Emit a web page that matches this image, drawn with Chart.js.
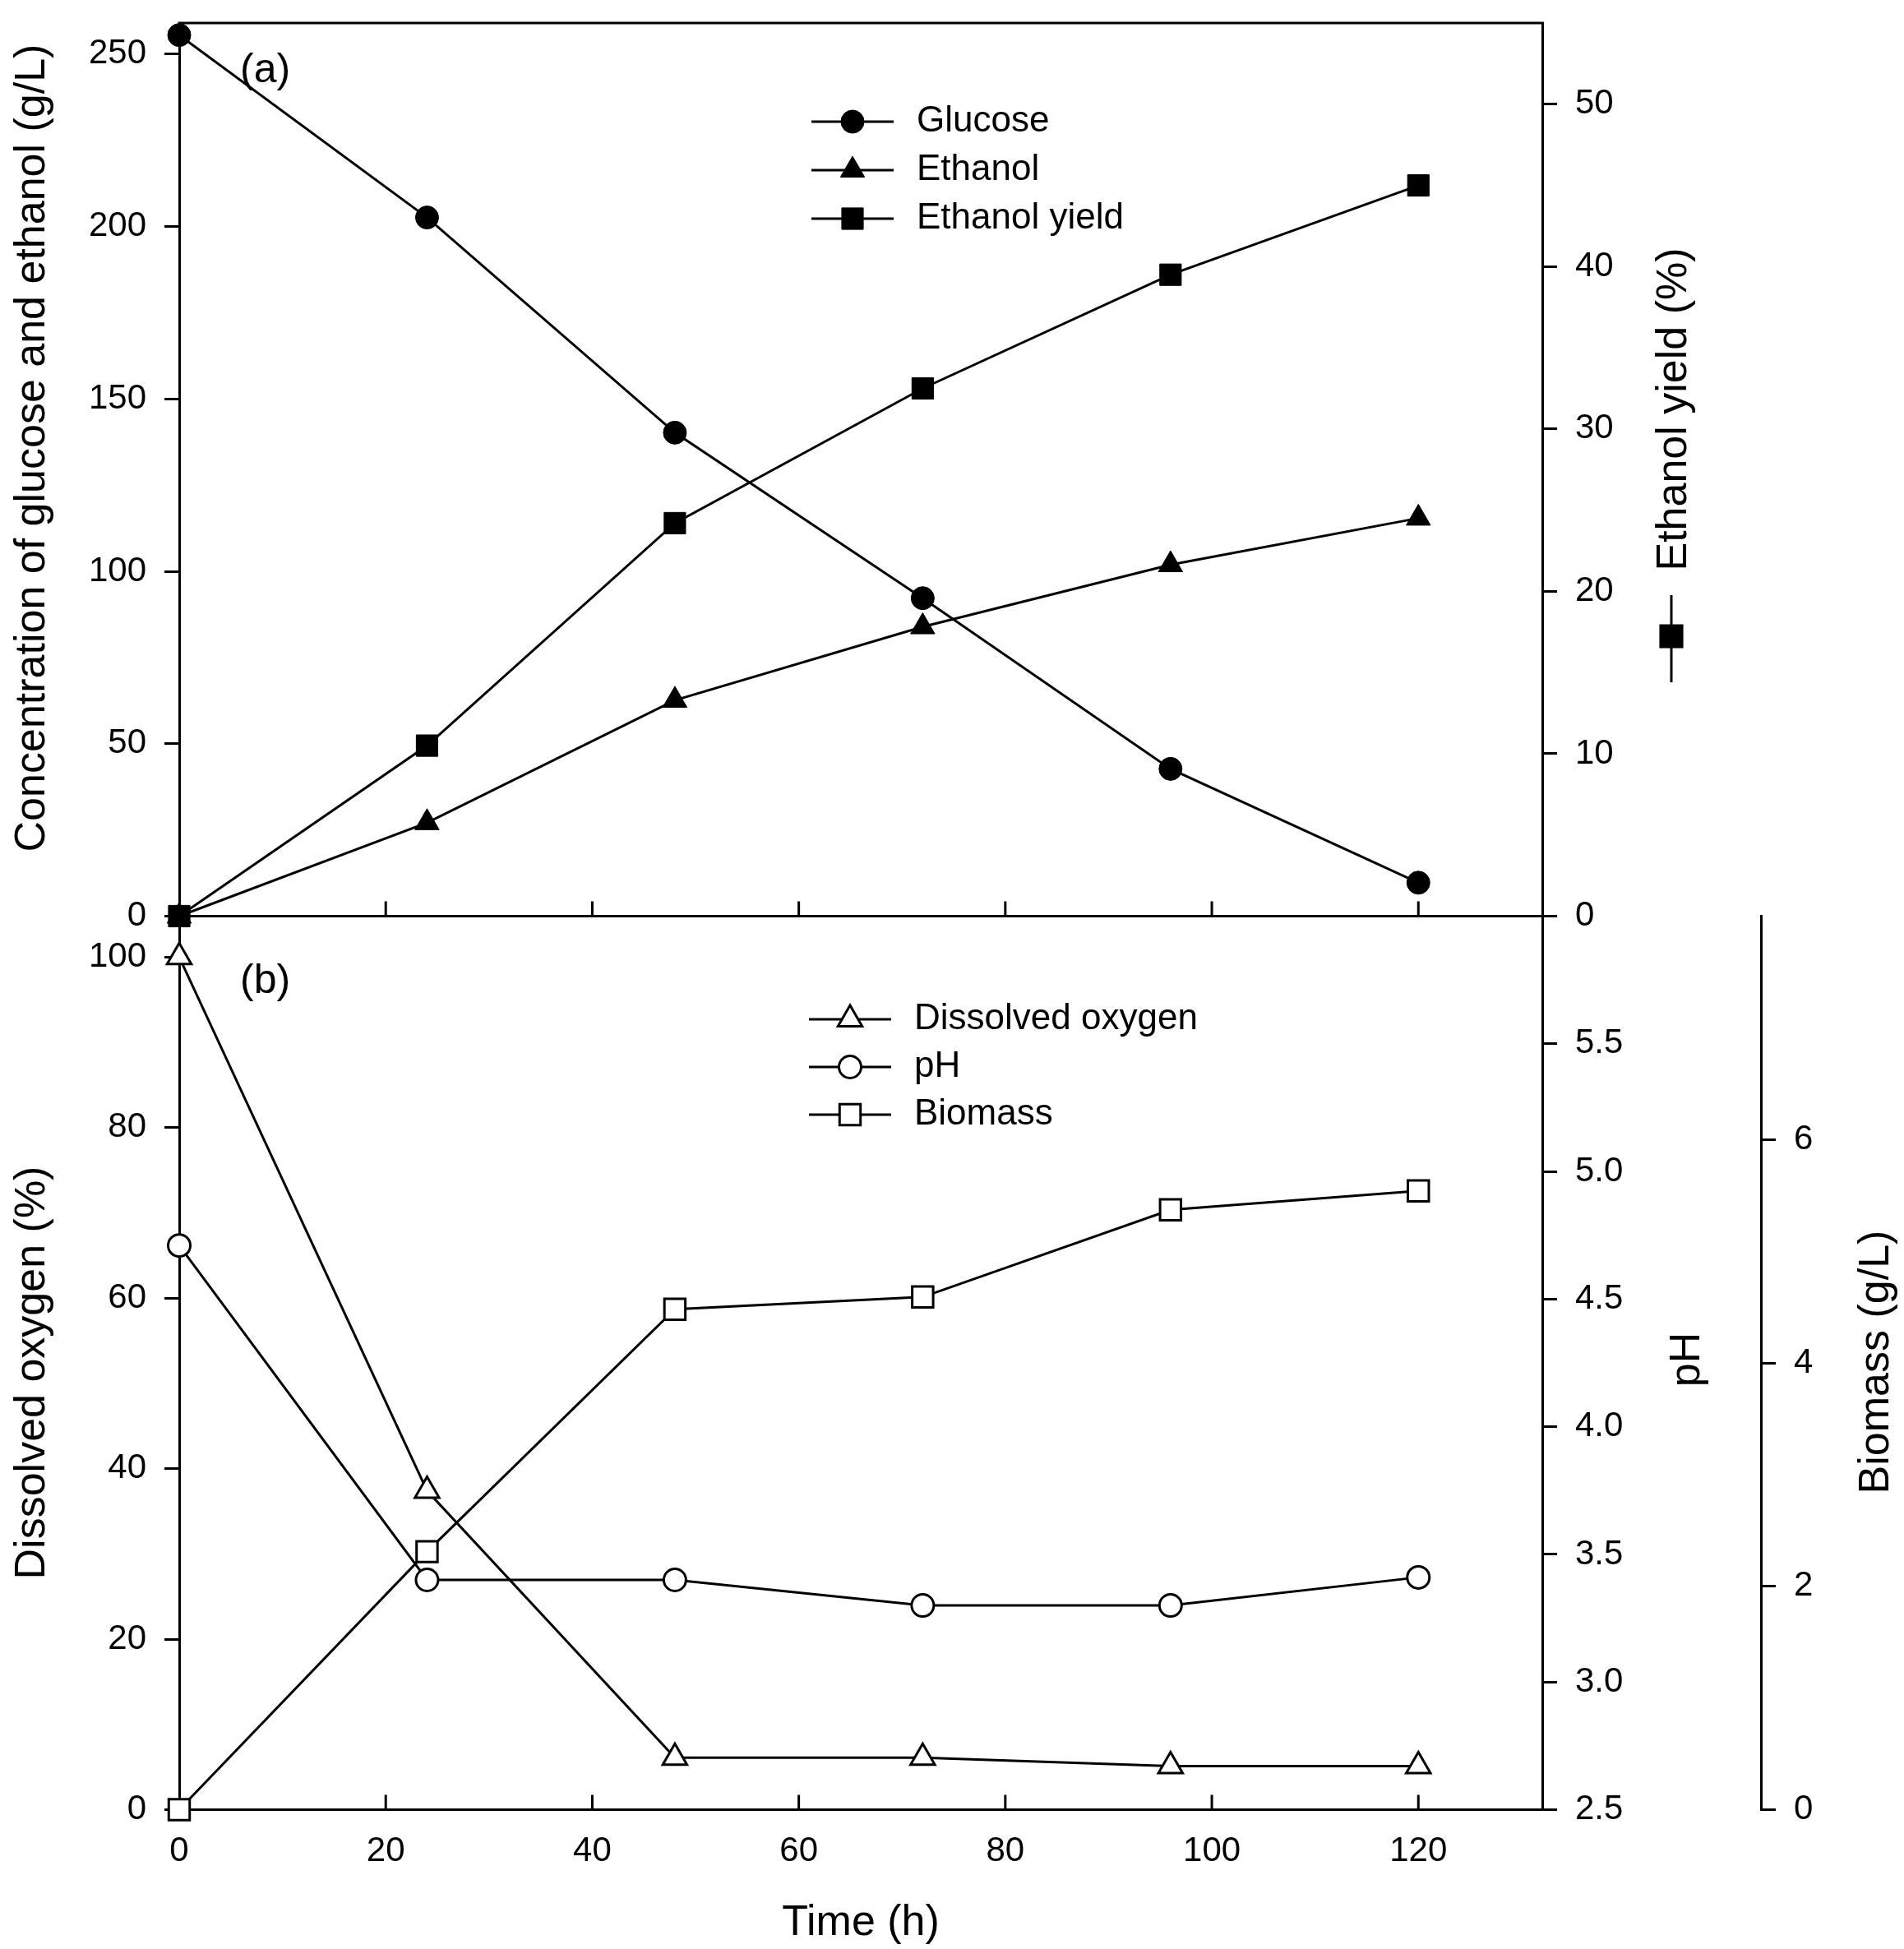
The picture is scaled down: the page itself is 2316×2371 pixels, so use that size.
<!DOCTYPE html>
<html>
<head>
<meta charset="utf-8">
<script src="https://cdn.jsdelivr.net/npm/chart.js@4.4.1/dist/chart.umd.min.js"></script>
<style>
  html, body { margin: 0; padding: 0; background: #fff; }
  #wrap { position: relative; width: 2316px; height: 2371px; }
  #wrap canvas { position: absolute; left: 0; top: 0; }
</style>
</head>
<body>
<div id="wrap">
  <canvas id="panelA" width="2316" height="2371"></canvas>
  <canvas id="panelB" width="2316" height="2371"></canvas>
</div>
<script>
// sampling times (h)
var timeH = [0, 24, 48, 72, 96, 120];
var timeTicks = [0, 20, 40, 60, 80, 100, 120];

// panel (a)
var glucose = [255.5, 202.6, 140.2, 92.2, 42.7, 9.7];
var ethanol = [0, 27.1, 62.6, 83.9, 101.9, 115.4];
var ethanolYield = [0, 10.5, 24.2, 32.5, 39.5, 45.0];

// panel (b)
var dissolvedO2 = [100, 37.4, 6.1, 6.1, 5.1, 5.1];
var pH = [4.71, 3.40, 3.40, 3.30, 3.30, 3.41];
var biomass = [0, 2.31, 4.48, 4.59, 5.37, 5.54];

var W = 2316, H = 2371;
var plotLeft = 218, plotRight = 1876, topA = 28, mid = 1114.5, bottomB = 2201.5, bioAxisX = 2142;
var FONT = "'Liberation Sans', Arial, sans-serif";

Chart.defaults.font.family = FONT;
Chart.defaults.color = '#000';

function pts(ys) {
    return timeH.map(function (t, i) { return { x: t, y: ys[i] }; });
}

function series(label, ys, axis, style, radius, filled) {
    return {
        label: label,
        data: pts(ys),
        yAxisID: axis,
        borderColor: '#000',
        borderWidth: 3,
        tension: 0,
        clip: false,
        pointStyle: style,
        pointRadius: radius,
        pointBackgroundColor: filled ? '#000' : '#fff',
        pointBorderColor: '#000',
        pointBorderWidth: filled ? 1 : 3
    };
}

function yAxis(pos, min, max, step, width, extra) {
    var ax = {
        type: 'linear',
        position: pos,
        min: min,
        max: max,
        ticks: { stepSize: step, includeBounds: false, padding: 22, font: { size: 42 } },
        grid: { drawOnChartArea: false, drawTicks: true, tickLength: 18, lineWidth: 3, color: '#000' },
        border: { display: true, color: '#000', width: 3 },
        afterFit: function (s) {
            s.width = width;
            s.paddingTop = 0;
            s.paddingBottom = 0;
        }
    };
    return Object.assign(ax, extra || {});
}

function inwardTicks(ctx, xs, y) {
    ctx.beginPath();
    timeTicks.forEach(function (v) {
        if (v === 0) return;
        var px = xs.getPixelForValue(v);
        ctx.moveTo(px, y);
        ctx.lineTo(px, y - 18);
    });
    ctx.stroke();
}

function drawLegend(chart, x0, y0, gap) {
    var ctx = chart.ctx;
    ctx.save();
    chart.data.datasets.forEach(function (ds, i) {
        var y = y0 + i * gap;
        ctx.strokeStyle = '#000';
        ctx.lineWidth = 3;
        ctx.beginPath();
        ctx.moveTo(x0, y);
        ctx.lineTo(x0 + 100, y);
        ctx.stroke();
        ctx.fillStyle = ds.pointBackgroundColor;
        ctx.lineWidth = ds.pointBorderWidth;
        Chart.helpers.drawPoint(ctx, { pointStyle: ds.pointStyle, radius: ds.pointRadius, borderWidth: ds.pointBorderWidth, rotation: 0 }, x0 + 50, y);
        ctx.fillStyle = '#000';
        ctx.font = '44px ' + FONT;
        ctx.textAlign = 'left';
        ctx.textBaseline = 'middle';
        ctx.fillText(ds.label, x0 + 128, y);
    });
    ctx.restore();
}

function vText(ctx, text, x, y) {
    ctx.save();
    ctx.translate(x, y);
    ctx.rotate(-Math.PI / 2);
    ctx.fillStyle = '#000';
    ctx.font = '52px ' + FONT;
    ctx.textAlign = 'center';
    ctx.textBaseline = 'middle';
    ctx.fillText(text, 0, 0);
    ctx.restore();
}

function panelLabel(ctx, text, x, y) {
    ctx.save();
    ctx.fillStyle = '#000';
    ctx.font = '50px ' + FONT;
    ctx.textAlign = 'left';
    ctx.textBaseline = 'middle';
    ctx.fillText(text, x, y);
    ctx.restore();
}

var decorA = {
    id: 'decorA',
    beforeDatasetsDraw: function (chart) {
        var ctx = chart.ctx, a = chart.chartArea;
        ctx.save();
        ctx.strokeStyle = '#000';
        ctx.lineWidth = 3;
        ctx.beginPath();
        ctx.moveTo(a.left - 1.5, a.top);
        ctx.lineTo(a.right + 1.5, a.top);
        ctx.stroke();
        inwardTicks(ctx, chart.scales.x, a.bottom);
        ctx.restore();
    },
    afterDatasetsDraw: function (chart) {
        var ctx = chart.ctx;
        drawLegend(chart, 987, 148, 59);
        panelLabel(ctx, '(a)', 292, 86);
        vText(ctx, 'Concentration of glucose and ethanol (g/L)', 40, 545);
        // right title with its series symbol
        vText(ctx, 'Ethanol yield (%)', 2037, 498);
        var ds = chart.data.datasets[2];
        ctx.save();
        ctx.strokeStyle = '#000';
        ctx.lineWidth = 3;
        ctx.beginPath();
        ctx.moveTo(2033, 724);
        ctx.lineTo(2033, 830);
        ctx.stroke();
        ctx.fillStyle = '#000';
        Chart.helpers.drawPoint(ctx, { pointStyle: ds.pointStyle, radius: ds.pointRadius, borderWidth: 1, rotation: 0 }, 2033, 774);
        ctx.restore();
    }
};

var decorB = {
    id: 'decorB',
    beforeDatasetsDraw: function (chart) {
        var ctx = chart.ctx, a = chart.chartArea;
        ctx.save();
        ctx.strokeStyle = '#000';
        ctx.lineWidth = 3;
        inwardTicks(ctx, chart.scales.x, a.bottom);
        ctx.restore();
    },
    afterDatasetsDraw: function (chart) {
        var ctx = chart.ctx;
        drawLegend(chart, 984, 1240, 58);
        panelLabel(ctx, '(b)', 292, 1194);
        vText(ctx, 'Dissolved oxygen (%)', 40, 1670);
        vText(ctx, 'pH', 2053, 1654);
        vText(ctx, 'Biomass (g/L)', 2283, 1657);
    }
};

new Chart(document.getElementById('panelA'), {
    type: 'line',
    data: {
        datasets: [
            series('Glucose', glucose, 'yConc', 'circle', 14, true),
            series('Ethanol', ethanol, 'yConc', 'triangle', 17, true),
            series('Ethanol yield', ethanolYield, 'yYield', 'rect', 18.5, true)
        ]
    },
    options: {
        responsive: false,
        animation: false,
        devicePixelRatio: 1,
        layout: { padding: { left: 0, right: 0, top: topA, bottom: H - mid } },
        plugins: { legend: { display: false }, tooltip: { enabled: false } },
        scales: {
            x: {
                type: 'linear', min: 0, max: 132,
                ticks: { display: false },
                grid: { drawOnChartArea: false, drawTicks: false },
                border: { display: true, color: '#000', width: 3 },
                afterFit: function (s) { s.height = 0; }
            },
            yConc: yAxis('left', 0, 259, 50, plotLeft),
            yYield: yAxis('right', 0, 55, 10, W - plotRight)
        }
    },
    plugins: [decorA]
});

new Chart(document.getElementById('panelB'), {
    type: 'line',
    data: {
        datasets: [
            series('Dissolved oxygen', dissolvedO2, 'yDO', 'triangle', 17, false),
            series('pH', pH, 'yPH', 'circle', 13.5, false),
            series('Biomass', biomass, 'yBio', 'rect', 18, false)
        ]
    },
    options: {
        responsive: false,
        animation: false,
        devicePixelRatio: 1,
        layout: { padding: { left: 0, right: 0, top: mid, bottom: 0 } },
        plugins: { legend: { display: false }, tooltip: { enabled: false } },
        scales: {
            x: {
                type: 'linear', position: 'bottom', min: 0, max: 132,
                ticks: { stepSize: 20, includeBounds: false, padding: 26, maxRotation: 0, font: { size: 42 } },
                grid: { drawOnChartArea: false, drawTicks: false },
                border: { display: true, color: '#000', width: 3 },
                title: { display: true, text: 'Time (h)', font: { size: 52 }, padding: { top: 4, bottom: 0 } },
                afterFit: function (s) { s.height = H - bottomB; }
            },
            yDO: yAxis('left', 0, 104.8, 20, plotLeft),
            yPH: yAxis('right', 2.5, 6.0, 0.5, bioAxisX - plotRight, {
                weight: 0
            }),
            yBio: yAxis('right', 0, 8, 2, W - bioAxisX, {
                weight: 1
            })
        }
    },
    plugins: [decorB]
});

// hide the labels that coincide with panel (a)
var cb = Chart.getChart('panelB');
cb.options.scales.yPH.ticks.callback = function (v) { return v > 5.99 ? null : v.toFixed(1); };
cb.options.scales.yBio.ticks.callback = function (v) { return v > 7.99 ? null : v; };
cb.update('none');
</script>
</body>
</html>
